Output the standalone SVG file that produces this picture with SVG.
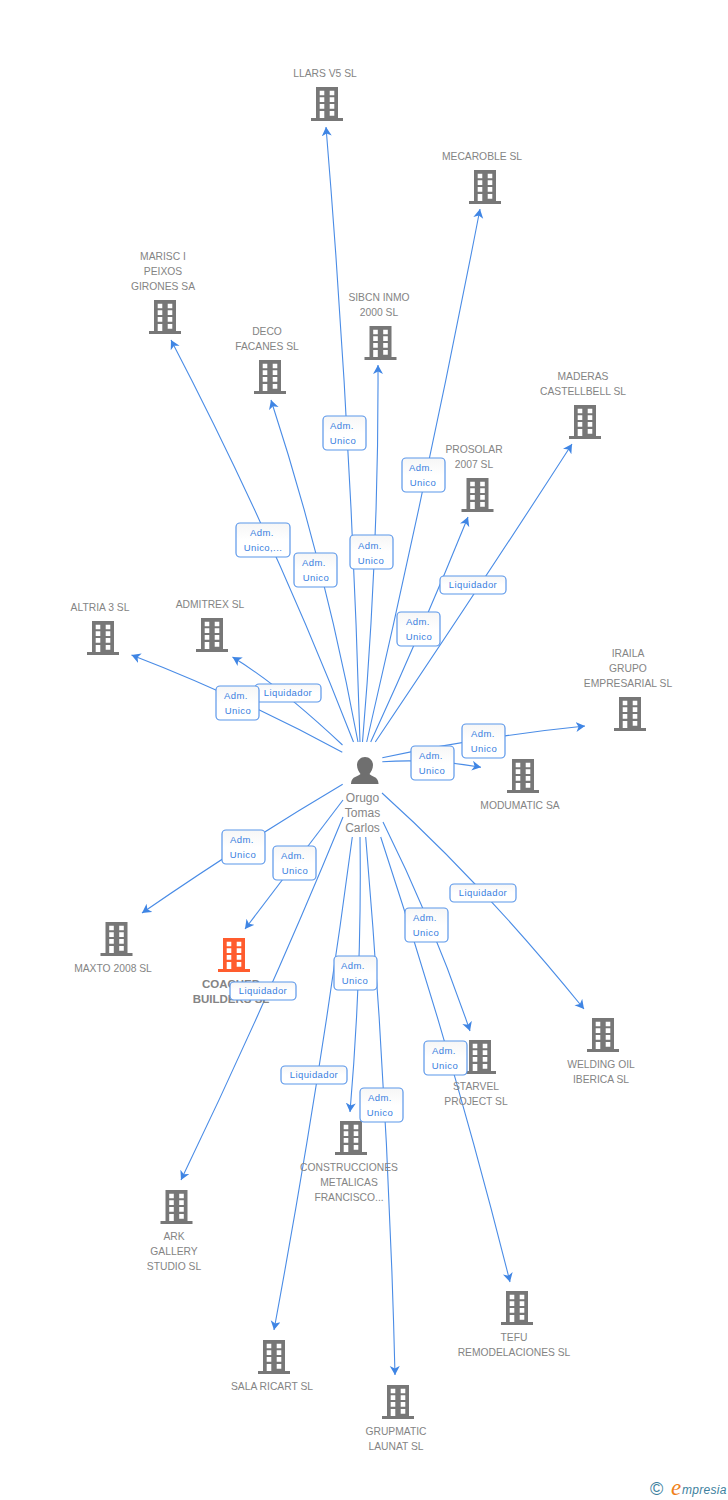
<svg xmlns="http://www.w3.org/2000/svg" width="728" height="1500" viewBox="0 0 728 1500">
<style>
text{font-family:"Liberation Sans",Arial,sans-serif}
.n{font-size:10.3px;fill:#848484;text-anchor:middle}
.b{font-size:9.5px;fill:#3a80e0;text-anchor:middle;letter-spacing:.4px}
.r{fill:url(#g);stroke:#5b97ea;stroke-width:1.2}
#connectors path{fill:none;stroke:#4a8ce6;stroke-width:1.100;marker-end:url(#a)}
</style>
<defs>
<linearGradient id="g" x1="0" y1="0" x2="0" y2="1"><stop offset="0" stop-color="#f6f6f6"/><stop offset=".5" stop-color="#fff"/></linearGradient>
<marker id="a" markerUnits="userSpaceOnUse" markerWidth="12" markerHeight="12" refX="9" refY="5" orient="auto"><path d="M0 0L9 5L0 10L2.500 5Z" fill="#3f85e4"/></marker>
<symbol id="bld" width="32" height="34" viewBox="0 0 32 34" overflow="visible">
<path fill-rule="evenodd" d="M5 0H27V31H32V34H0V31H5ZM8.700 3.700V8.300H13.300V3.700ZM18.700 3.700V8.300H23.300V3.700ZM8.700 10.300V15H13.300V10.300ZM18.700 10.300V15H23.300V10.300ZM8.700 17V21.700H13.300V17ZM18.700 17V21.700H23.300V17ZM8.700 24V31H13.300V24ZM18.700 24V28.700H23.300V24Z"/>
</symbol>
</defs>
<rect width="728" height="1500" fill="#fff"/>
<g id="connectors">
<path d="M360 742Q351.200 431.500 326 127"/>
<path d="M366.700 742Q428.600 474.600 480 209"/>
<path d="M353.500 742Q273.800 537 171 340"/>
<path d="M362.500 742Q378.800 550.500 378 365"/>
<path d="M358 742Q325.500 567 271 400"/>
<path d="M375.300 742Q486.300 577 572 444"/>
<path d="M370.700 742Q423.600 626.600 468 517"/>
<path d="M342.300 752.300Q239 696.300 131.500 655"/>
<path d="M342.500 745Q278.500 685 232.500 657"/>
<path d="M382.300 757.700Q484.400 736.200 585 726"/>
<path d="M382.300 761.700Q432.400 758.500 481 767.300"/>
<path d="M342.700 784.300Q243.500 843 142 913"/>
<path d="M343 800Q298 859.500 245 929"/>
<path d="M343 817Q268.600 998.500 181 1180"/>
<path d="M352.300 837Q320 1082 274 1330"/>
<path d="M360 837Q362 972 350 1112"/>
<path d="M365.700 837Q388.500 1106 395 1375"/>
<path d="M383 822Q433.500 923.500 470 1031"/>
<path d="M380.700 837Q453.500 1057 510 1282"/>
<path d="M382 793Q482 883 584 1009"/>
</g>
<g id="n-llars" fill="#777"><use href="#bld" x="311" y="87"/><text class="n" x="325" y="77">LLARS V5 SL</text></g>
<g id="n-mecaroble" fill="#777"><use href="#bld" x="469" y="170"/><text class="n" x="482" y="160">MECAROBLE SL</text></g>
<g id="n-marisc" fill="#777"><use href="#bld" x="149" y="300"/><text class="n" x="163" y="260">MARISC I</text><text class="n" x="163" y="275">PEIXOS</text><text class="n" x="163" y="290">GIRONES SA</text></g>
<g id="n-sibcn" fill="#777"><use href="#bld" x="364.500" y="326"/><text class="n" x="379" y="301">SIBCN INMO</text><text class="n" x="379" y="316">2000 SL</text></g>
<g id="n-deco" fill="#777"><use href="#bld" x="254" y="360"/><text class="n" x="267" y="335">DECO</text><text class="n" x="267" y="350">FACANES SL</text></g>
<g id="n-maderas" fill="#777"><use href="#bld" x="569" y="405"/><text class="n" x="583" y="380">MADERAS</text><text class="n" x="583" y="395">CASTELLBELL SL</text></g>
<g id="n-prosolar" fill="#777"><use href="#bld" x="461.500" y="478"/><text class="n" x="474" y="453">PROSOLAR</text><text class="n" x="474" y="468">2007 SL</text></g>
<g id="n-altria" fill="#777"><use href="#bld" x="87" y="621"/><text class="n" x="100" y="611">ALTRIA 3 SL</text></g>
<g id="n-admitrex" fill="#777"><use href="#bld" x="196" y="618"/><text class="n" x="210" y="608">ADMITREX SL</text></g>
<g id="n-iraila" fill="#777"><use href="#bld" x="614" y="697"/><text class="n" x="628" y="657">IRAILA</text><text class="n" x="628" y="672">GRUPO</text><text class="n" x="628" y="687">EMPRESARIAL SL</text></g>
<g id="n-modumatic" fill="#777"><use href="#bld" x="507" y="759"/><text class="n" x="520" y="809">MODUMATIC SA</text></g>
<g id="n-maxto" fill="#777"><use href="#bld" x="100.500" y="922"/><text class="n" x="113" y="972">MAXTO 2008 SL</text></g>
<g id="n-coached" fill="#ff5c2e"><use href="#bld" x="218" y="938"/><text class="n" x="231" y="988" font-weight="bold" style="font-size:11.500px">COACHED</text><text class="n" x="231" y="1003" font-weight="bold" style="font-size:11.500px">BUILDERS SL</text></g>
<g id="n-welding" fill="#777"><use href="#bld" x="587" y="1018"/><text class="n" x="601" y="1068">WELDING OIL</text><text class="n" x="601" y="1083">IBERICA SL</text></g>
<g id="n-starvel" fill="#777"><use href="#bld" x="464" y="1040"/><text class="n" x="476" y="1090">STARVEL</text><text class="n" x="476" y="1105">PROJECT SL</text></g>
<g id="n-construcciones" fill="#777"><use href="#bld" x="335" y="1121"/><text class="n" x="349" y="1171">CONSTRUCCIONES</text><text class="n" x="349" y="1186">METALICAS</text><text class="n" x="349" y="1201">FRANCISCO...</text></g>
<g id="n-ark" fill="#777"><use href="#bld" x="160.500" y="1190"/><text class="n" x="174" y="1240">ARK</text><text class="n" x="174" y="1255">GALLERY</text><text class="n" x="174" y="1270">STUDIO SL</text></g>
<g id="n-tefu" fill="#777"><use href="#bld" x="501" y="1291"/><text class="n" x="514" y="1341">TEFU</text><text class="n" x="514" y="1356">REMODELACIONES SL</text></g>
<g id="n-sala" fill="#777"><use href="#bld" x="258" y="1340"/><text class="n" x="272" y="1390">SALA RICART SL</text></g>
<g id="n-grupmatic" fill="#777"><use href="#bld" x="382" y="1385"/><text class="n" x="396" y="1435">GRUPMATIC</text><text class="n" x="396" y="1450">LAUNAT SL</text></g>
<g id="n-person">
<path fill="#6f6f6f" d="M365 757C370 757 373 761 373 765C373 769 371 772 369.500 774C371 776.500 378 776 378.500 783.500V784H351V783.500C351.500 776 358.500 776.500 360.500 774C359 772 357 769 357 765C357 761 360 757 365 757Z"/>
<text x="362.500" y="802" text-anchor="middle" font-size="12" fill="#868686">Orugo</text><text x="362.500" y="817" text-anchor="middle" font-size="12" fill="#868686">Tomas</text><text x="362.500" y="832" text-anchor="middle" font-size="12" fill="#868686">Carlos</text>
</g>
<g id="labels">
<g><rect class="r" x="323" y="416" width="43" height="34" rx="4"/><text class="b" x="342" y="429">Adm.</text><text class="b" x="343" y="444">Unico</text></g>
<g><rect class="r" x="402" y="458" width="43" height="34" rx="4"/><text class="b" x="421" y="471">Adm.</text><text class="b" x="423" y="486">Unico</text></g>
<g><rect class="r" x="236" y="523" width="54" height="34" rx="4"/><text class="b" x="262" y="536">Adm.</text><text class="b" x="263" y="551">Unico,...</text></g>
<g><rect class="r" x="350" y="535" width="43" height="34" rx="4"/><text class="b" x="370" y="549">Adm.</text><text class="b" x="371" y="564">Unico</text></g>
<g><rect class="r" x="294" y="553" width="43" height="34" rx="4"/><text class="b" x="314" y="566">Adm.</text><text class="b" x="316" y="581">Unico</text></g>
<g><rect class="r" x="440" y="576" width="66" height="18" rx="4"/><text class="b" x="473" y="588">Liquidador</text></g>
<g><rect class="r" x="397" y="612" width="43" height="34" rx="4"/><text class="b" x="418" y="625">Adm.</text><text class="b" x="419" y="640">Unico</text></g>
<g><rect class="r" x="255" y="684" width="66" height="18" rx="4"/><text class="b" x="288" y="696">Liquidador</text></g>
<g><rect class="r" x="216" y="686" width="43" height="34" rx="4"/><text class="b" x="236" y="699">Adm.</text><text class="b" x="238" y="714">Unico</text></g>
<g><rect class="r" x="462" y="724" width="43" height="34" rx="4"/><text class="b" x="483" y="737">Adm.</text><text class="b" x="484" y="752">Unico</text></g>
<g><rect class="r" x="411" y="746" width="43" height="34" rx="4"/><text class="b" x="431" y="759">Adm.</text><text class="b" x="432" y="774">Unico</text></g>
<g><rect class="r" x="222" y="830" width="43" height="34" rx="4"/><text class="b" x="242" y="843">Adm.</text><text class="b" x="243" y="858">Unico</text></g>
<g><rect class="r" x="273" y="846" width="43" height="34" rx="4"/><text class="b" x="293" y="859">Adm.</text><text class="b" x="295" y="874">Unico</text></g>
<g><rect class="r" x="450" y="884" width="66" height="18" rx="4"/><text class="b" x="483" y="896">Liquidador</text></g>
<g><rect class="r" x="405" y="908" width="43" height="34" rx="4"/><text class="b" x="425" y="921">Adm.</text><text class="b" x="426" y="936">Unico</text></g>
<g><rect class="r" x="334" y="956" width="43" height="34" rx="4"/><text class="b" x="353" y="969">Adm.</text><text class="b" x="355" y="984">Unico</text></g>
<g><rect class="r" x="230" y="982" width="66" height="18" rx="4"/><text class="b" x="263" y="994">Liquidador</text></g>
<g><rect class="r" x="424" y="1041" width="43" height="34" rx="4"/><text class="b" x="444" y="1054">Adm.</text><text class="b" x="445" y="1069">Unico</text></g>
<g><rect class="r" x="281" y="1066" width="66" height="18" rx="4"/><text class="b" x="314" y="1078">Liquidador</text></g>
<g><rect class="r" x="360" y="1088" width="43" height="34" rx="4"/><text class="b" x="380" y="1101">Adm.</text><text class="b" x="380" y="1116">Unico</text></g>
</g>
<g id="logo">
<text x="650" y="1495" font-size="18" fill="#3d7f9e">©</text>
<text x="671" y="1495" font-size="23" fill="#f08018" font-style="italic" style="font-family:'Liberation Serif',serif">e</text>
<text x="682" y="1494" font-size="12" fill="#3d7f9e" font-style="italic" letter-spacing=".3">mpresia</text>
</g>
</svg>
